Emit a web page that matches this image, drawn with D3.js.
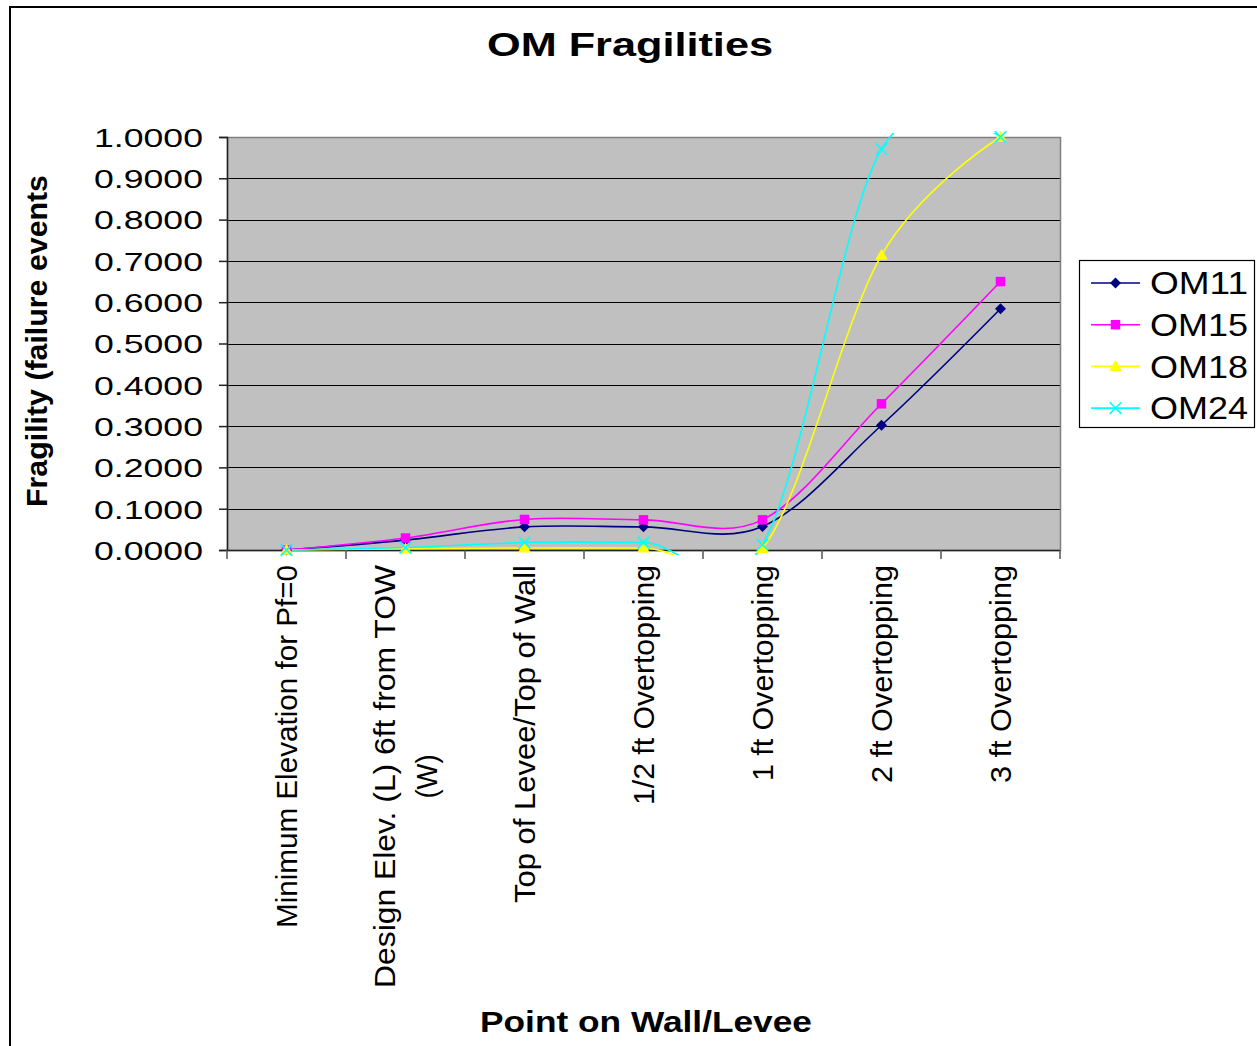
<!DOCTYPE html>
<html><head><meta charset="utf-8">
<script src="https://cdn.jsdelivr.net/npm/d3@7"></script>
<style>
html,body{margin:0;padding:0;background:#fff;}
svg{display:block;font-family:"Liberation Sans",Arial,sans-serif;}
</style></head>
<body>
<svg id="chart" width="1257" height="1046"></svg>
<script>
const categories = [
  ["Minimum Elevation for Pf=0"],
  ["Design Elev.   (L)   6ft from TOW", "(W)"],
  ["Top of Levee/Top of Wall"],
  ["1/2 ft Overtopping"],
  ["1 ft Overtopping"],
  ["2 ft Overtopping"],
  ["3 ft Overtopping"]
];
const categoryKeys = categories.map(c => c.join(" "));
const seriesNames = ["OM11", "OM15", "OM18", "OM24"];
const om11 = [0, 0.024, 0.056, 0.056, 0.057, 0.302, 0.584];
const om15 = [0, 0.029, 0.074, 0.073, 0.073, 0.354, 0.650];
const om18 = [0, 0.003, 0.005, 0.005, 0.004, 0.714, 1.000];
const om24 = [0, 0.006, 0.018, 0.018, 0.013, 0.971, 1.000];
const yTicks = [0, 0.1, 0.2, 0.3, 0.4, 0.5, 0.6, 0.7, 0.8, 0.9, 1.0];
const titleText = "OM Fragilities";
const yTitle = "Fragility (failure events";
const xTitle = "Point on Wall/Levee";

const seriesValues = [om11, om15, om18, om24];
const colors = ["#000080", "#FF00FF", "#FFFF00", "#00FFFF"];
const markerTypes = ["diamond", "square", "triangle", "x"];

const svg = d3.select("#chart");

// outer chart border
svg.append("rect").attr("x", 10).attr("y", 7).attr("width", 1262).attr("height", 1060)
  .attr("fill", "#fff").attr("stroke", "#000").attr("stroke-width", 2);

const plot = {left: 227, right: 1060, top: 137, bottom: 550};
const x = d3.scaleBand().domain(categoryKeys).range([plot.left, plot.right]).padding(0);
const y = d3.scaleLinear().domain([0, 1]).range([plot.bottom, plot.top]);
const cx = k => x(k) + x.bandwidth() / 2;

// plot area
svg.append("rect").attr("x", plot.left).attr("y", plot.top)
  .attr("width", plot.right - plot.left).attr("height", plot.bottom - plot.top)
  .attr("fill", "#C0C0C0");

// gridlines
svg.append("g").selectAll("line").data(yTicks.filter(d => d > 0)).join("line")
  .attr("x1", plot.left).attr("x2", plot.right)
  .attr("y1", d => Math.round(y(d)) + 0.5).attr("y2", d => Math.round(y(d)) + 0.5)
  .attr("stroke", "#000").attr("stroke-width", 1);

// plot border (right/top)
svg.append("rect").attr("x", plot.left + 0.5).attr("y", plot.top + 0.5)
  .attr("width", plot.right - plot.left).attr("height", plot.bottom - plot.top)
  .attr("fill", "none").attr("stroke", "#808080").attr("stroke-width", 1.5);

// y axis
const yAxis = svg.append("g").attr("transform", `translate(${plot.left},0)`)
  .call(d3.axisLeft(y).tickValues(yTicks).tickFormat(d3.format(".4f")).tickSize(8).tickPadding(16));
yAxis.select(".domain").attr("stroke", "#222").attr("stroke-width", 1.5);
yAxis.selectAll(".tick line").attr("stroke", "#222").attr("stroke-width", 1.5);
yAxis.selectAll(".tick text")
  .attr("font-family", "'Liberation Sans',Arial,sans-serif")
  .attr("font-size", 26).attr("fill", "#000")
  .attr("x", -24).attr("dy", "0.36em")
  .attr("textLength", 109).attr("lengthAdjust", "spacingAndGlyphs");

// x axis (ticks at category boundaries)
const xAxisG = svg.append("g");
xAxisG.append("line").attr("x1", plot.left).attr("x2", plot.right)
  .attr("y1", plot.bottom + 0.5).attr("y2", plot.bottom + 0.5)
  .attr("stroke", "#222").attr("stroke-width", 1.5);
const bounds = categoryKeys.map(k => x(k)).concat([x.range()[1]]);
xAxisG.selectAll("line.tk").data(bounds).join("line").attr("class", "tk")
  .attr("x1", d => d).attr("x2", d => d)
  .attr("y1", plot.bottom).attr("y2", plot.bottom + 9)
  .attr("stroke", "#555").attr("stroke-width", 1.5);

// x tick labels (rotated)
const labelLens = [[363], [423, 44], [338], [240], [216], [218], [218]];
const lineGap = 42;
categories.forEach((lines, i) => {
  const c = cx(categoryKeys[i]);
  const n = lines.length;
  lines.forEach((t, j) => {
    const base = c + 10 + (j - (n - 1) / 2) * lineGap;
    const g = svg.append("g").attr("transform", `translate(${base},${plot.bottom + 15}) rotate(-90)`);
    const txt = g.append("text").text(t)
      .attr("font-size", 29).attr("fill", "#000")
      .attr("textLength", labelLens[i][j]).attr("lengthAdjust", "spacingAndGlyphs");
    if (n > 1 && j > 0) {
      // centered relative to first line
      txt.attr("text-anchor", "middle").attr("x", -labelLens[i][0] / 2);
    } else {
      txt.attr("text-anchor", "end");
    }
  });
});

// lines
const clipId = "plotclip";
svg.append("clipPath").attr("id", clipId).append("rect")
  .attr("x", plot.left).attr("y", plot.top - 4)
  .attr("width", plot.right - plot.left).attr("height", plot.bottom - plot.top + 9);

const line = d3.line()
  .x((d, i) => cx(categoryKeys[i]))
  .y(d => y(d))
  .curve(d3.curveCardinal.tension(0));

const linesG = svg.append("g").attr("clip-path", `url(#${clipId})`);
seriesValues.forEach((vals, s) => {
  linesG.append("path").datum(vals).attr("d", line)
    .attr("fill", "none").attr("stroke", colors[s]).attr("stroke-width", 1.6);
});

function drawMarker(g, type, color, px, py, scale) {
  scale = scale || 1;
  if (type === "diamond") {
    g.append("path").attr("d", d3.symbol(d3.symbolSquare, 60 * scale)())
      .attr("transform", `translate(${px},${py}) rotate(45)`).attr("fill", color);
  } else if (type === "square") {
    g.append("path").attr("d", d3.symbol(d3.symbolSquare, 90 * scale)())
      .attr("transform", `translate(${px},${py})`).attr("fill", color);
  } else if (type === "triangle") {
    g.append("path").attr("d", d3.symbol(d3.symbolTriangle, 70 * scale)())
      .attr("transform", `translate(${px},${py + 1})`).attr("fill", color);
  } else {
    g.append("path").attr("d", d3.symbol(d3.symbolX, 90 * scale)())
      .attr("transform", `translate(${px},${py})`).attr("fill", "none")
      .attr("stroke", color).attr("stroke-width", 1.6);
  }
}

const markersG = svg.append("g");
seriesValues.forEach((vals, s) => {
  vals.forEach((v, i) => drawMarker(markersG, markerTypes[s], colors[s], cx(categoryKeys[i]), y(v)));
});

// title
svg.append("text").text(titleText).attr("x", 630).attr("y", 56)
  .attr("text-anchor", "middle").attr("font-size", 34).attr("font-weight", "bold")
  .attr("textLength", 286).attr("lengthAdjust", "spacingAndGlyphs");

// y title
svg.append("text").text(yTitle)
  .attr("transform", "translate(47,341) rotate(-90)")
  .attr("text-anchor", "middle").attr("font-size", 29).attr("font-weight", "bold")
  .attr("textLength", 332).attr("lengthAdjust", "spacingAndGlyphs");

// x title
svg.append("text").text(xTitle).attr("x", 646).attr("y", 1032)
  .attr("text-anchor", "middle").attr("font-size", 30).attr("font-weight", "bold")
  .attr("textLength", 332).attr("lengthAdjust", "spacingAndGlyphs");

// legend
const lg = svg.append("g");
lg.append("rect").attr("x", 1079.5).attr("y", 260.5).attr("width", 175).attr("height", 167)
  .attr("fill", "#fff").attr("stroke", "#000").attr("stroke-width", 1.2);
seriesNames.forEach((name, s) => {
  const ly = 283 + s * 41.7;
  lg.append("line").attr("x1", 1091).attr("x2", 1140).attr("y1", ly).attr("y2", ly)
    .attr("stroke", colors[s]).attr("stroke-width", 1.6);
  drawMarker(lg, markerTypes[s], colors[s], 1115.5, ly);
  lg.append("text").text(name).attr("x", 1150).attr("y", ly).attr("dy", "0.36em")
    .attr("font-size", 31).attr("textLength", 98).attr("lengthAdjust", "spacingAndGlyphs");
});
</script>
</body></html>
